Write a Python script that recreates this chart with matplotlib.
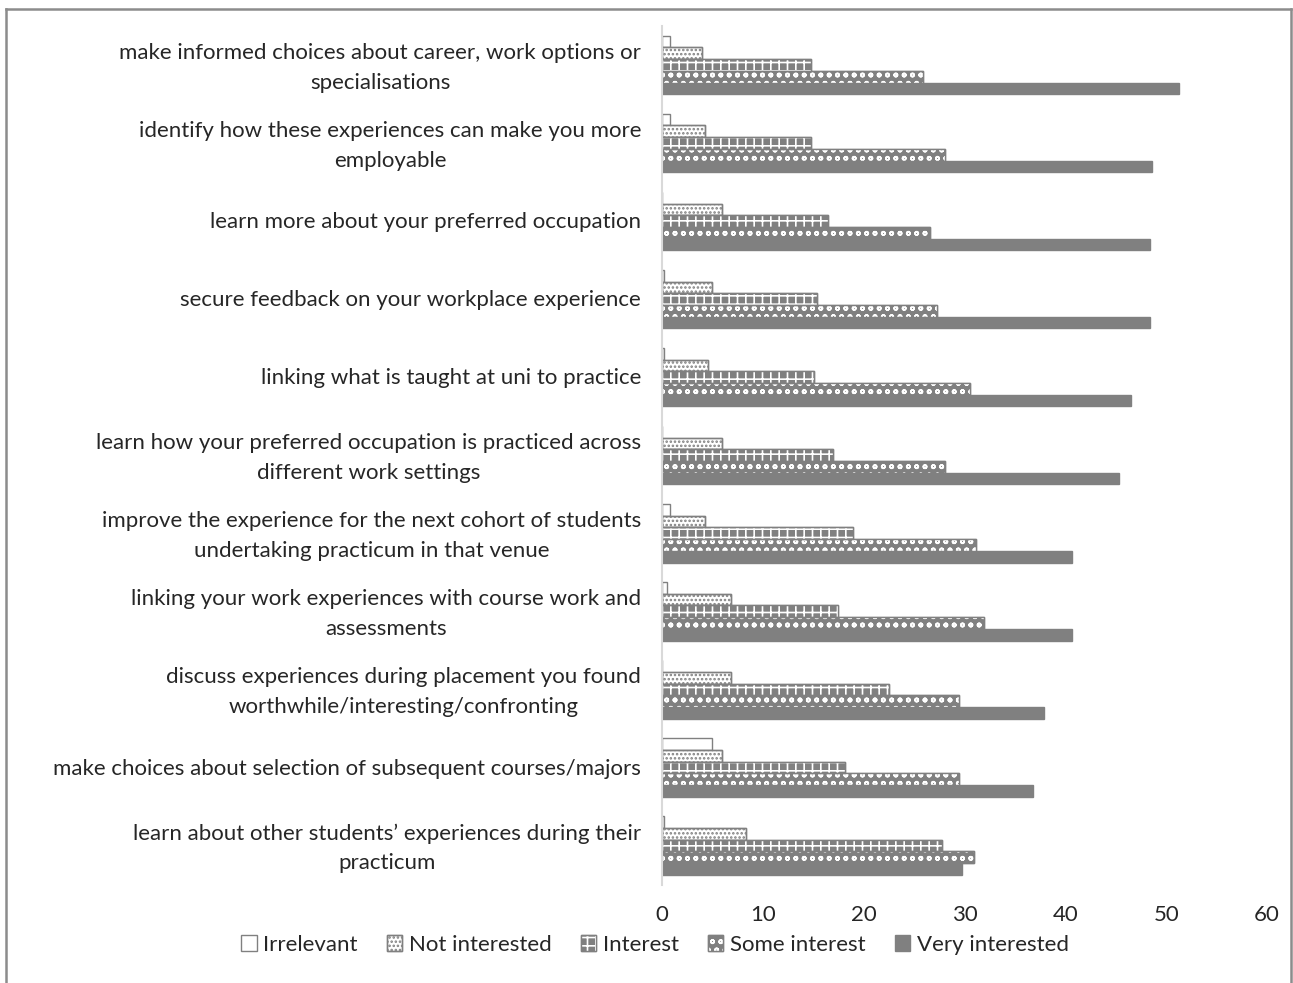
import numpy as np
import matplotlib
matplotlib.use("Agg")
import matplotlib.pyplot as plt
from matplotlib.patches import Patch
from matplotlib.lines import Line2D

plt.rcParams['font.family'] = ['Lato', 'DejaVu Sans']
plt.rcParams['hatch.linewidth'] = 1.2

categories = [
    "make informed choices about career, work options or\nspecialisations",
    "identify how these experiences can make you more\nemployable",
    "learn more about your preferred occupation",
    "secure feedback on your workplace experience",
    "linking what is taught at uni to practice",
    "learn how your preferred occupation is practiced across\ndifferent work settings",
    "improve the experience for the next cohort of students\nundertaking practicum in that venue",
    "linking your work experiences with course work and\nassessments",
    "discuss experiences during placement you found\nworthwhile/interesting/confronting",
    "make choices about selection of subsequent courses/majors",
    "learn about other students\u2019 experiences during their\npracticum",
]

series = ["Irrelevant", "Not interested", "Interest", "Some interest", "Very interested"]

irrelevant      = [0.8, 0.8, 0.0, 0.2, 0.2, 0.0, 0.8, 0.5, 0.0, 5.0, 0.2]
not_interested  = [4.0, 4.3, 5.9, 5.0, 4.6, 5.9, 4.3, 6.8, 6.8, 5.9, 8.3]
interest        = [14.8, 14.8, 16.5, 15.4, 15.1, 17.0, 18.9, 17.5, 22.5, 18.1, 27.8]
some_interest   = [25.9, 28.1, 26.6, 27.3, 30.5, 28.1, 31.1, 31.9, 29.5, 29.5, 30.9]
very_interested = [51.3, 48.6, 48.4, 48.4, 46.5, 45.3, 40.7, 40.7, 37.9, 36.8, 29.8]

xticks = [0, 10, 20, 30, 40, 50, 60]

GRAY = '#808080'
TEXT = '#262626'

# face colour, then an optional hatch drawn on top (colour, pattern)
styles = [
    dict(face='white', hatch=None),
    dict(face='white', hatch=(GRAY, '....')),
    dict(face=GRAY, hatch=('white', '++')),
    dict(face=GRAY, hatch=('white', 'oo')),
    dict(face=GRAY, hatch=None),
]

fig = plt.figure(figsize=(12.93, 9.83), dpi=100)
ax = fig.add_axes([0.512, 0.1002, 0.4679, 0.8734])

values = [irrelevant, not_interested, interest, some_interest, very_interested]
y = np.arange(len(categories))
h = 0.15
handles = []
for k, (vals, st) in enumerate(zip(values, styles)):
    pos = y + (k - 2) * h
    ax.barh(pos, vals, height=h, color=st['face'], edgecolor=GRAY, linewidth=1.0, zorder=2)
    base = Patch(facecolor=st['face'], edgecolor=GRAY, linewidth=1.0)
    if st['hatch'] is not None:
        hc, pat = st['hatch']
        ax.barh(pos, vals, height=h, facecolor='none', edgecolor=hc, hatch=pat,
                linewidth=0, zorder=3)
        ax.barh(pos, vals, height=h, facecolor='none', edgecolor=GRAY, linewidth=1.0, zorder=4)
        over = Patch(facecolor='none', edgecolor=hc, hatch=pat, linewidth=0)
        frame = Patch(facecolor='none', edgecolor=GRAY, linewidth=1.0)
        handles.append((base, over, frame))
    else:
        handles.append(base)

ax.set_ylim(len(categories) - 0.5, -0.5)
ax.set_xlim(0, 60)
ax.set_xticks(xticks)
# two-line labels sit a touch higher than the group centre
ax.set_yticks([yy - 0.05 if '\n' in c else yy - 0.01 for yy, c in zip(y, categories)])
ax.set_yticklabels(categories, fontsize=16, color=TEXT, linespacing=1.6,
                   multialignment='center')
ax.tick_params(axis='y', length=0, pad=15)
ax.tick_params(axis='x', length=0, pad=15, labelsize=16, labelcolor=TEXT)

for s in ['top', 'right', 'bottom']:
    ax.spines[s].set_visible(False)
ax.spines['left'].set_color('#d9d9d9')
ax.spines['left'].set_linewidth(1.5)
ax.spines['left'].set_zorder(5)

fig.legend(handles, series, loc='center', bbox_to_anchor=(655 / 1293, 1 - 945 / 983),
           ncol=5, frameon=False, fontsize=16, handlelength=0.7, handleheight=0.7,
           handletextpad=0.3, columnspacing=1.3, labelcolor=TEXT)

# outer chart frame
for xs, ys in [((0.005, 0.005), (0.0, 0.991)),
               ((0.005, 0.9985), (0.991, 0.991)),
               ((0.9985, 0.9985), (0.0, 0.991))]:
    fig.add_artist(Line2D(xs, ys, color='#8c8c8c', linewidth=1.8, transform=fig.transFigure))

fig.savefig('out.png', dpi=100)
